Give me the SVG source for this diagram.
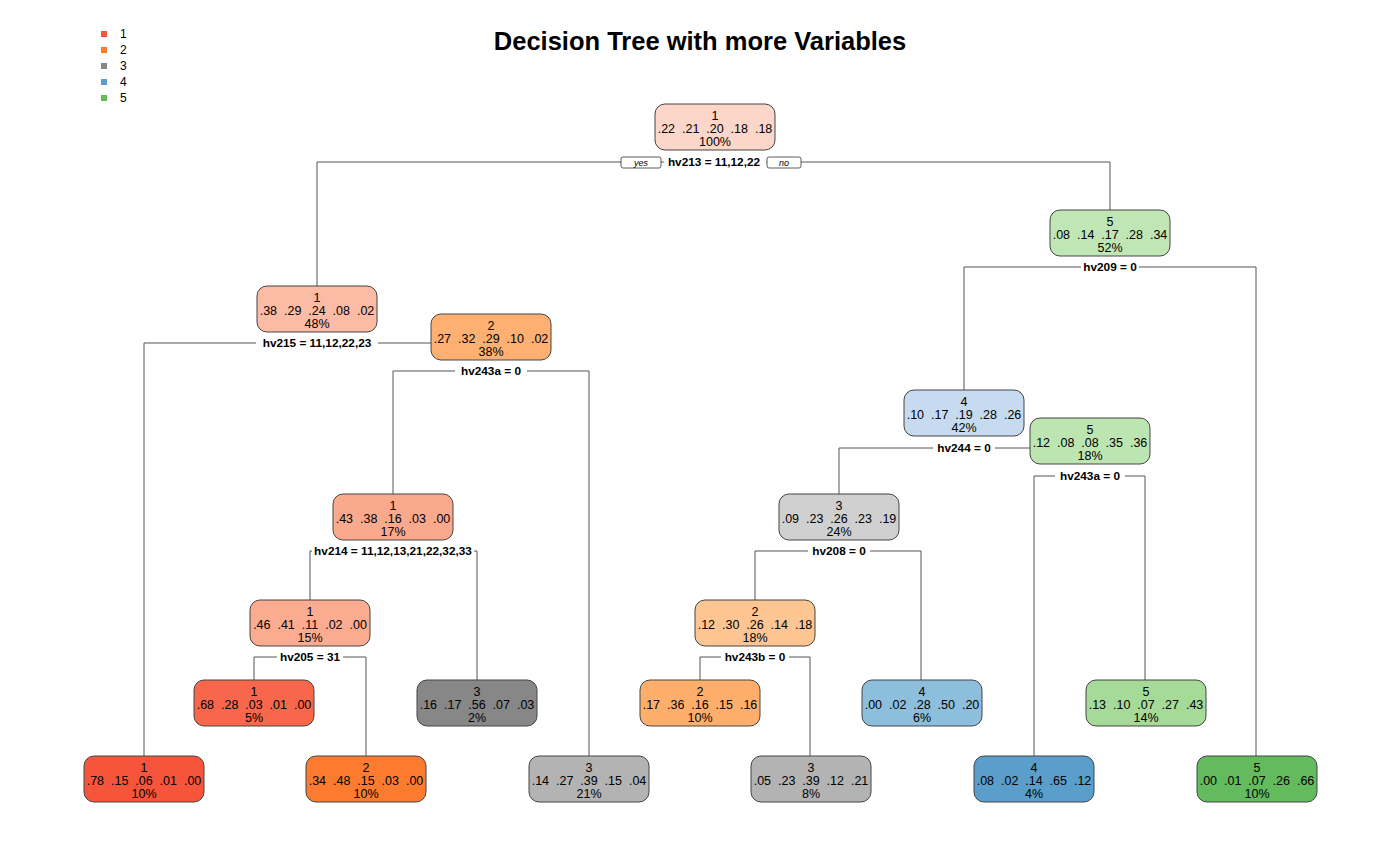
<svg xmlns="http://www.w3.org/2000/svg" width="1400" height="865" viewBox="0 0 1400 865">
<style>
.n rect{stroke:#444;stroke-width:1}
.n text{font-family:"Liberation Sans",Arial,sans-serif;font-size:12.5px;text-anchor:middle;fill:#000;white-space:pre}
.s{font-family:"Liberation Sans",Arial,sans-serif;font-size:11.8px;font-weight:bold;text-anchor:middle;fill:#000}
.c line,.c polyline{stroke:#555;stroke-width:1;fill:none}
.lg text{font-family:"Liberation Sans",Arial,sans-serif;font-size:12px;fill:#000}
.yn{fill:#fff;stroke:#333;stroke-width:0.8}
.ynt{font-family:"Liberation Sans",Arial,sans-serif;font-size:9px;font-style:italic;text-anchor:middle}
</style>
<rect width="1400" height="865" fill="#fff"/>
<text x="700" y="50" font-family="Liberation Sans,Arial,sans-serif" font-size="25.5" font-weight="bold" text-anchor="middle">Decision Tree with more Variables</text>
<g class="lg" id="legend">
<rect x="101" y="31" width="6" height="6" fill="#F6553C"/><text x="120" y="38">1</text>
<rect x="101" y="47" width="6" height="6" fill="#FD7B2F"/><text x="120" y="54">2</text>
<rect x="101" y="63" width="6" height="6" fill="#878787"/><text x="120" y="70">3</text>
<rect x="101" y="79" width="6" height="6" fill="#5A9FCB"/><text x="120" y="86">4</text>
<rect x="101" y="95" width="6" height="6" fill="#63BB5D"/><text x="120" y="102">5</text>
</g>
<g class="c" id="connectors">
<polyline points="317,286 317,162 1110,162 1110,210"/>
<polyline points="144,756 144,343 491,343"/>
<polyline points="393,494 393,371 589,371 589,756"/>
<polyline points="310,600 310,551 477,551 477,680"/>
<polyline points="254,680 254,657 366,657 366,756"/>
<polyline points="964,390 964,267 1256,267 1256,756"/>
<polyline points="839,494 839,448 1090,448"/>
<polyline points="1034,756 1034,476 1145,476 1145,680"/>
<polyline points="755,600 755,551 921,551 921,680"/>
<polyline points="700,680 700,657 810,657 810,756"/>
</g>
<g id="splits">
<rect x="664" y="155" width="102" height="14" fill="#fff"/><text class="s" x="714" y="166">hv213 = 11,12,22</text>
<rect class="yn" x="621" y="157" width="40" height="11" rx="2"/><text class="ynt" x="641" y="166">yes</text>
<rect class="yn" x="767" y="157" width="34" height="11" rx="2"/><text class="ynt" x="784" y="166">no</text>
<rect x="1081" y="260" width="58" height="14" fill="#fff"/><text class="s" x="1110" y="271">hv209 = 0</text>
<rect x="256" y="336" width="122" height="14" fill="#fff"/><text class="s" x="317" y="347">hv215 = 11,12,22,23</text>
<rect x="455" y="364" width="72" height="14" fill="#fff"/><text class="s" x="491" y="375">hv243a = 0</text>
<rect x="933" y="441" width="62" height="14" fill="#fff"/><text class="s" x="964" y="452">hv244 = 0</text>
<rect x="1055" y="469" width="70" height="14" fill="#fff"/><text class="s" x="1090" y="480">hv243a = 0</text>
<rect x="312" y="544" width="162" height="14" fill="#fff"/><text class="s" x="393" y="555">hv214 = 11,12,13,21,22,32,33</text>
<rect x="808" y="544" width="62" height="14" fill="#fff"/><text class="s" x="839" y="555">hv208 = 0</text>
<rect x="277" y="650" width="66" height="14" fill="#fff"/><text class="s" x="310" y="661">hv205 = 31</text>
<rect x="721" y="650" width="68" height="14" fill="#fff"/><text class="s" x="755" y="661">hv243b = 0</text>
</g>
<g class="n" id="n1"><rect x="655" y="104" width="120" height="46" rx="10" fill="#FCD6C8"/><text x="715" y="120">1</text><text x="715" y="133">.22  .21  .20  .18  .18</text><text x="715" y="146">100%</text></g>
<g class="n" id="n2"><rect x="257" y="286" width="120" height="46" rx="10" fill="#FCBBA4"/><text x="317" y="302">1</text><text x="317" y="315">.38  .29  .24  .08  .02</text><text x="317" y="328">48%</text></g>
<g class="n" id="n3"><rect x="1050" y="210" width="120" height="46" rx="10" fill="#C0E6B5"/><text x="1110" y="226">5</text><text x="1110" y="239">.08  .14  .17  .28  .34</text><text x="1110" y="252">52%</text></g>
<g class="n" id="n4"><rect x="84" y="756" width="120" height="46" rx="10" fill="#F6553C"/><text x="144" y="772">1</text><text x="144" y="785">.78  .15  .06  .01  .00</text><text x="144" y="798">10%</text></g>
<g class="n" id="n5"><rect x="431" y="314" width="120" height="46" rx="10" fill="#FDB071"/><text x="491" y="330">2</text><text x="491" y="343">.27  .32  .29  .10  .02</text><text x="491" y="356">38%</text></g>
<g class="n" id="n6"><rect x="904" y="390" width="120" height="46" rx="10" fill="#C6DBEF"/><text x="964" y="406">4</text><text x="964" y="419">.10  .17  .19  .28  .26</text><text x="964" y="432">42%</text></g>
<g class="n" id="n7"><rect x="1197" y="756" width="120" height="46" rx="10" fill="#63BB5D"/><text x="1257" y="772">5</text><text x="1257" y="785">.00  .01  .07  .26  .66</text><text x="1257" y="798">10%</text></g>
<g class="n" id="n10"><rect x="333" y="494" width="120" height="46" rx="10" fill="#FBA98D"/><text x="393" y="510">1</text><text x="393" y="523">.43  .38  .16  .03  .00</text><text x="393" y="536">17%</text></g>
<g class="n" id="n11"><rect x="529" y="756" width="120" height="46" rx="10" fill="#B3B3B3"/><text x="589" y="772">3</text><text x="589" y="785">.14  .27  .39  .15  .04</text><text x="589" y="798">21%</text></g>
<g class="n" id="n12"><rect x="779" y="494" width="120" height="46" rx="10" fill="#D0D0D0"/><text x="839" y="510">3</text><text x="839" y="523">.09  .23  .26  .23  .19</text><text x="839" y="536">24%</text></g>
<g class="n" id="n13"><rect x="1030" y="418" width="120" height="46" rx="10" fill="#BDE5B1"/><text x="1090" y="434">5</text><text x="1090" y="447">.12  .08  .08  .35  .36</text><text x="1090" y="460">18%</text></g>
<g class="n" id="n20"><rect x="250" y="600" width="120" height="46" rx="10" fill="#FBAB8F"/><text x="310" y="616">1</text><text x="310" y="629">.46  .41  .11  .02  .00</text><text x="310" y="642">15%</text></g>
<g class="n" id="n21"><rect x="417" y="680" width="120" height="46" rx="10" fill="#878787"/><text x="477" y="696">3</text><text x="477" y="709">.16  .17  .56  .07  .03</text><text x="477" y="722">2%</text></g>
<g class="n" id="n24"><rect x="695" y="600" width="120" height="46" rx="10" fill="#FDC591"/><text x="755" y="616">2</text><text x="755" y="629">.12  .30  .26  .14  .18</text><text x="755" y="642">18%</text></g>
<g class="n" id="n25"><rect x="862" y="680" width="120" height="46" rx="10" fill="#8DBEDB"/><text x="922" y="696">4</text><text x="922" y="709">.00  .02  .28  .50  .20</text><text x="922" y="722">6%</text></g>
<g class="n" id="n26"><rect x="974" y="756" width="120" height="46" rx="10" fill="#5A9FCB"/><text x="1034" y="772">4</text><text x="1034" y="785">.08  .02  .14  .65  .12</text><text x="1034" y="798">4%</text></g>
<g class="n" id="n27"><rect x="1086" y="680" width="120" height="46" rx="10" fill="#A6DA98"/><text x="1146" y="696">5</text><text x="1146" y="709">.13  .10  .07  .27  .43</text><text x="1146" y="722">14%</text></g>
<g class="n" id="n40"><rect x="194" y="680" width="120" height="46" rx="10" fill="#F8664B"/><text x="254" y="696">1</text><text x="254" y="709">.68  .28  .03  .01  .00</text><text x="254" y="722">5%</text></g>
<g class="n" id="n41"><rect x="306" y="756" width="120" height="46" rx="10" fill="#FD7B2F"/><text x="366" y="772">2</text><text x="366" y="785">.34  .48  .15  .03  .00</text><text x="366" y="798">10%</text></g>
<g class="n" id="n48"><rect x="640" y="680" width="120" height="46" rx="10" fill="#FDAE6B"/><text x="700" y="696">2</text><text x="700" y="709">.17  .36  .16  .15  .16</text><text x="700" y="722">10%</text></g>
<g class="n" id="n49"><rect x="751" y="756" width="120" height="46" rx="10" fill="#B3B3B3"/><text x="811" y="772">3</text><text x="811" y="785">.05  .23  .39  .12  .21</text><text x="811" y="798">8%</text></g>
</svg>
